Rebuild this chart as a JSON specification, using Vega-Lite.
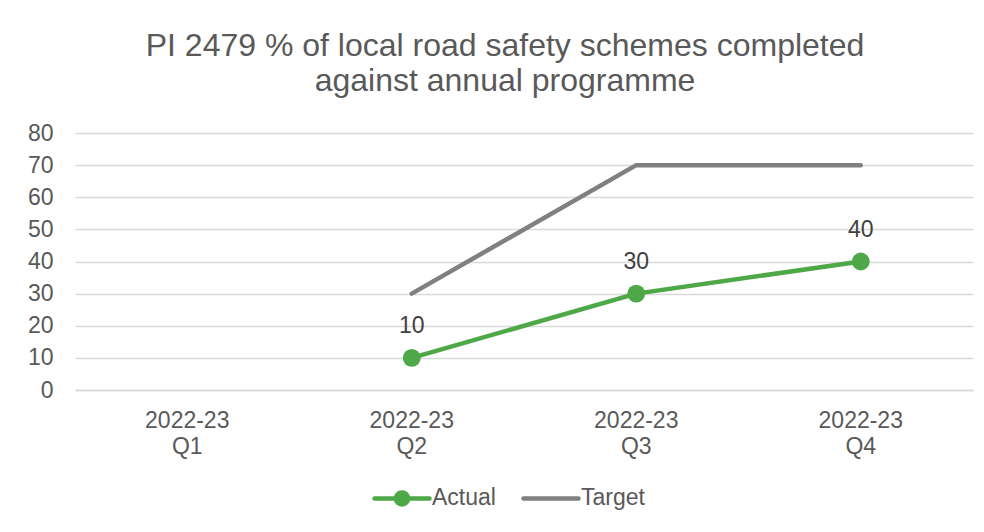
{
  "$schema": "https://vega.github.io/schema/vega-lite/v6.json",
  "width": 898,
  "height": 257,
  "autosize": {"type": "none"},
  "padding": {"left": 75, "top": 133, "right": 11, "bottom": 142},
  "background": "white",
  "config": {"view": {"stroke": null}, "font": "Liberation Sans"},
  "title": {
    "text": ["PI 2479 % of local road safety schemes completed", "against annual programme"],
    "fontSize": 32,
    "font": "Liberation Sans",
    "fontWeight": "normal",
    "color": "#595959",
    "anchor": "middle",
    "lineHeight": 35,
    "offset": 24,
    "dx": -19
  },
  "data": {
    "values": [
      {"quarter": "2022-23 Q2", "series": "Actual", "value": 10},
      {"quarter": "2022-23 Q3", "series": "Actual", "value": 30},
      {"quarter": "2022-23 Q4", "series": "Actual", "value": 40},
      {"quarter": "2022-23 Q2", "series": "Target", "value": 30},
      {"quarter": "2022-23 Q3", "series": "Target", "value": 70},
      {"quarter": "2022-23 Q4", "series": "Target", "value": 70}
    ]
  },
  "encoding": {
    "x": {
      "field": "quarter",
      "type": "nominal",
      "scale": {"domain": ["2022-23 Q1", "2022-23 Q2", "2022-23 Q3", "2022-23 Q4"], "paddingInner": 0, "paddingOuter": 0, "type": "band"},
      "axis": {
        "title": null,
        "labelAngle": 0,
        "labelExpr": "split(datum.label, ' ')",
        "labelFontSize": 23,
        "labelColor": "#595959",
        "labelLineHeight": 26,
        "labelPadding": 19,
        "ticks": false,
        "domainColor": "#d9d9d9",
        "domainWidth": 1.3
      }
    },
    "y": {
      "field": "value",
      "type": "quantitative",
      "scale": {"domain": [0, 80], "nice": false},
      "axis": {
        "title": null,
        "values": [0, 10, 20, 30, 40, 50, 60, 70, 80],
        "labelFontSize": 23,
        "labelColor": "#595959",
        "labelPadding": 22,
        "ticks": false,
        "domain": false,
        "gridColor": "#d9d9d9",
        "gridWidth": 1.3
      }
    }
  },
  "layer": [
    {
      "mark": {"type": "line", "strokeWidth": 4.5, "strokeCap": "round", "strokeJoin": "round"},
      "encoding": {
        "color": {
          "field": "series",
          "type": "nominal",
          "scale": {"domain": ["Actual", "Target"], "range": ["#4EA848", "#808080"]},
          "legend": {
            "title": null,
            "orient": "none",
            "direction": "horizontal",
            "legendX": 297,
            "legendY": 335,
            "labelFontSize": 23,
            "labelColor": "#595959",
            "labelOffset": 0,
            "columnPadding": 18,
            "symbolType": "M-1,0H1",
            "symbolSize": 3025,
            "symbolStrokeWidth": 4.5,
            "encode": {
              "symbols": {
                "update": {
                  "shape": {"signal": "datum.value == 'Actual' ? 'M-1,0H1M-0.22,0A0.22,0.22 0 1,1 0.22,0A0.22,0.22 0 1,1 -0.22,0Z' : 'M-1,0H1M0,-0.22M0,0.22'"},
                  "fill": {"signal": "datum.value == 'Actual' ? '#4EA848' : 'transparent'"},
                  "strokeCap": {"value": "round"}
                }
              }
            }
          }
        }
      }
    },
    {
      "transform": [{"filter": "datum.series == 'Actual'"}],
      "mark": {"type": "point", "filled": true, "size": 320, "color": "#4EA848", "opacity": 1}
    },
    {
      "transform": [{"filter": "datum.series == 'Actual'"}],
      "mark": {"type": "text", "dy": -32, "fontSize": 23, "color": "#404040"},
      "encoding": {"text": {"field": "value", "type": "quantitative"}}
    }
  ]
}
